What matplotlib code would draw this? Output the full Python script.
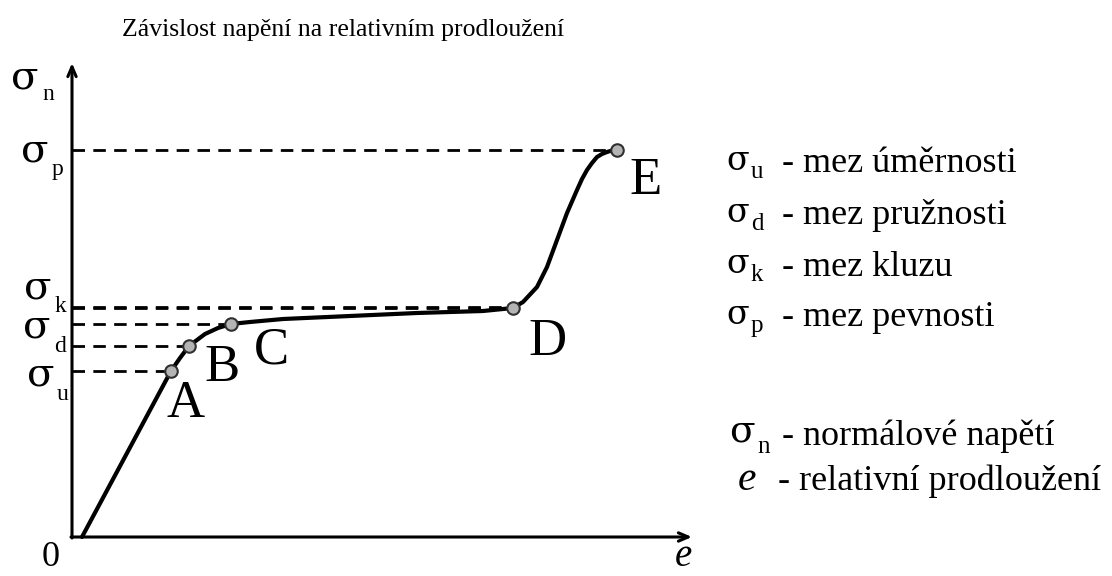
import matplotlib
matplotlib.use("Agg")
import matplotlib.pyplot as plt

plt.rcParams['font.family'] = ['Liberation Serif', 'DejaVu Serif']

# tahovy diagram - poměrné prodloužení e a napětí sigma_n (schematicky)
strain = [0.10, 0.99, 1.08, 1.17, 1.33, 1.46, 1.59, 1.78, 2.11, 2.78, 3.45, 4.11, 4.41,
          4.51, 4.65, 4.75, 4.85, 4.95, 5.05, 5.10, 5.15, 5.20, 5.25, 5.30, 5.35, 5.40, 5.45]
stress = [0.00, 1.66, 1.79, 1.91, 2.03, 2.09, 2.13, 2.15, 2.18, 2.21, 2.24, 2.26, 2.29,
          2.35, 2.50, 2.70, 2.97, 3.24, 3.47, 3.58, 3.67, 3.74, 3.80, 3.83, 3.85, 3.865, 3.87]

# význačné body A-E
point_names = ['A', 'B', 'C', 'D', 'E']
point_e = [0.99, 1.17, 1.59, 4.41, 5.45]
point_s = [1.66, 1.91, 2.13, 2.29, 3.87]

# popisky na ose napětí (index symbolu, výška)
limit_subs = ['p', 'k', 'd', 'u']
limit_y = [3.86, 2.49, 2.10, 1.62]

legend_subs = ['u', 'd', 'k', 'p']
legend_text = ['- mez úměrnosti', '- mez pružnosti', '- mez kluzu', '- mez pevnosti']

W, H = 1112, 576
fig = plt.figure(figsize=(W / 100, H / 100), dpi=100)
ax = fig.add_axes([0, 0, 1, 1])
ax.set_xlim(-0.72, 10.40)
ax.set_ylim(-0.39, 5.37)
ax.axis('off')


def px(x, y):
    return x / W, 1 - y / H


SIG = dict(family='DejaVu Serif', ha='center', va='center')

# osy se šipkami
arrow = dict(arrowstyle='->,head_length=0.7,head_width=0.3', lw=2.2, color='black',
             shrinkA=0, shrinkB=0)
ax.annotate('', xy=(6.20, 0), xytext=(-0.01, 0), arrowprops=arrow)
ax.annotate('', xy=(0, 4.74), xytext=(0, -0.01), arrowprops=arrow)

# čárkované vodorovné čáry k bodům
for xe, ys in zip(point_e, point_s):
    ax.plot([0, xe], [ys, ys], color='black', lw=2.0, dashes=(4.5, 3.0))
ax.plot([0, point_e[3]], [2.30, 2.30], color='black', lw=2.0, dashes=(4.5, 3.0))

ax.plot(strain, stress, color='black', lw=3.0, solid_capstyle='round',
        solid_joinstyle='round')
ax.plot(point_e, point_s, 'o', ms=9, mfc='#b4b4b4', mec='#303030', mew=1.5)

label_off = [(0.15, -0.33), (0.33, -0.22), (0.40, -0.26), (0.35, -0.34), (0.29, -0.31)]
for name, xe, ys, (dx, dy) in zip(point_names, point_e, point_s, label_off):
    ax.text(xe + dx, ys + dy, name, fontsize=38, ha='center', va='center')

# symboly na svislé ose
sig_x = [35, 38, 37, 41]
sub_x = [57, 60, 60, 63]
for sub, ys, sx, bx in zip(limit_subs, limit_y, sig_x, sub_x):
    y_px = 537 - ys * 100
    fig.text(*px(sx, y_px), 'σ', fontsize=29, **SIG)
    fig.text(*px(bx, y_px + 19), sub, fontsize=17, ha='center', va='center')
fig.text(*px(25, 78), 'σ', fontsize=29, **SIG)
fig.text(*px(48, 95), 'n', fontsize=17, ha='center', va='center')

fig.text(*px(51, 557), '0', fontsize=26, ha='center', va='center')
fig.text(*px(683, 557), 'e', fontsize=28, style='italic', ha='center', va='center')

fig.text(*px(122, 30), 'Závislost napění na relativním prodloužení', fontsize=18.5,
         ha='left', va='center')

# legenda vpravo
rows_y = [164, 216, 267, 318]
for sub, txt, ry in zip(legend_subs, legend_text, rows_y):
    fig.text(*px(738, ry - 3), 'σ', fontsize=24, **SIG)
    fig.text(*px(751, ry + 8), sub, fontsize=18, ha='left', va='center')
    fig.text(*px(782, ry), txt, fontsize=26, ha='left', va='center')

fig.text(*px(742, 431), 'σ', fontsize=27, **SIG)
fig.text(*px(757, 447), 'n', fontsize=18, ha='left', va='center')
fig.text(*px(782, 436), '- normálové napětí', fontsize=26, ha='left', va='center')
fig.text(*px(738, 480), 'e', fontsize=30, style='italic', ha='left', va='center')
fig.text(*px(778, 481), '- relativní prodloužení', fontsize=26, ha='left', va='center')

fig.savefig('out.png', dpi=100, facecolor='white')
